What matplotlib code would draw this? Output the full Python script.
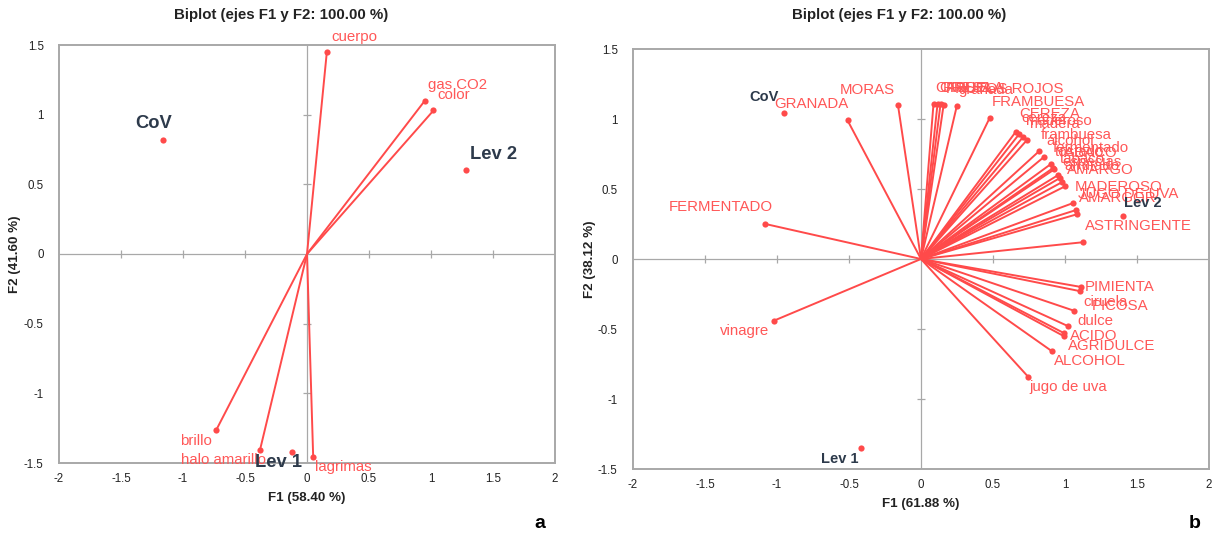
import matplotlib
matplotlib.use('Agg')
import matplotlib.pyplot as plt
import numpy as np

plt.rcParams['font.family'] = ['Liberation Sans', 'DejaVu Sans']

# ---------------- data: panel a ----------------
a_title = 'Biplot (ejes F1 y F2: 100.00 %)'
a_xlabel = 'F1 (58.40 %)'
a_ylabel = 'F2 (41.60 %)'
a_var_names = ['cuerpo', 'gas CO2', 'color', 'brillo', 'halo amarillo', 'lagrimas']
a_var_x = [0.16, 0.95, 1.02, -0.73, -0.38, 0.05]
a_var_y = [1.45, 1.10, 1.03, -1.26, -1.41, -1.46]
a_obs_names = ['CoV', 'Lev 2', 'Lev 1']
a_obs_x = [-1.16, 1.28, -0.12]
a_obs_y = [0.82, 0.60, -1.42]

# ---------------- data: panel b ----------------
b_title = 'Biplot (ejes F1 y F2: 100.00 %)'
b_xlabel = 'F1 (61.88 %)'
b_ylabel = 'F2 (38.12 %)'
b_var_names = ['MORAS', 'GRANADA', 'FERMENTADO', 'vinagre',
               'CASSIS', 'CIRUELA', 'FRESA', 'FRUTOS ROJOS', 'granada',
               'FRAMBUESA', 'CEREZA', 'cereza', 'maderoso', 'madera',
               'frambuesa', 'alcohol', 'fermentado', 'tostado', 'TABACO',
               'tabaco', 'especias', 'afrutado', 'AMARGO', 'MADEROSO',
               'JUGO DE UVA', 'AMARGOR', 'ASTRINGENTE',
               'PIMIENTA', 'PICOSA', 'ciruela', 'dulce', 'ACIDO', 'AGRIDULCE',
               'ALCOHOL', 'jugo de uva']
b_var_x = [-0.16, -0.51, -1.08, -1.02,
           0.087, 0.115, 0.136, 0.157, 0.248,
           0.478, 0.659, 0.680, 0.708, 0.736,
           0.820, 0.855, 0.904, 0.918, 0.925,
           0.953, 0.967, 0.981, 1.002, 1.057,
           1.078, 1.085, 1.127,
           1.113, 1.106, 1.064, 1.022, 0.994, 0.990,
           0.911, 0.743]
b_var_y = [1.10, 0.99, 0.25, -0.44,
           1.11, 1.11, 1.11, 1.10, 1.09,
           1.01, 0.91, 0.89, 0.87, 0.85,
           0.77, 0.73, 0.68, 0.65, 0.64,
           0.60, 0.58, 0.55, 0.52, 0.40,
           0.35, 0.32, 0.12,
           -0.20, -0.23, -0.37, -0.48, -0.53, -0.55,
           -0.66, -0.84]
b_obs_names = ['CoV', 'Lev 2', 'Lev 1']
b_obs_x = [-0.95, 1.40, -0.42]
b_obs_y = [1.04, 0.31, -1.35]

ticks_x = [-2, -1.5, -1, -0.5, 0, 0.5, 1, 1.5, 2]
ticks_y = [-1.5, -1, -0.5, 0, 0.5, 1, 1.5]

# ---------------- styles ----------------
RED = '#ff4a4a'
RED_TXT = '#ff5757'
DARK = '#2d3a4b'
GRAY = '#a8a8a8'

# label offsets in pixels (style only)
a_var_off = {'cuerpo': (5, 15, 'left'), 'gas CO2': (3, 16, 'left'),
             'color': (4, 15, 'left'), 'brillo': (-5, -11, 'right'),
             'halo amarillo': (6, -10, 'right'), 'lagrimas': (2, -10, 'left')}
a_obs_off = {'CoV': (-10, 16, 'center'), 'Lev 2': (4, 16, 'left'),
             'Lev 1': (10, -11, 'right')}
b_var_off = {'MORAS': (-3, 15, 'right'), 'GRANADA': (1, 16, 'right'),
             'FERMENTADO': (7, 17, 'right'), 'vinagre': (-5, -10, 'right'),
             'CEREZA': (3, 18, 'left'),
             'PIMIENTA': (3, 0, 'left'), 'PICOSA': (11, -15, 'left'),
             'ciruela': (9, 9, 'left'), 'dulce': (9, 5, 'left'),
             'ACIDO': (6, -3, 'left'), 'AGRIDULCE': (4, -10, 'left'),
             'ALCOHOL': (2, -10, 'left'), 'jugo de uva': (1, -10, 'left')}
b_obs_off = {'CoV': (-5, 16, 'right'), 'Lev 2': (1, 13, 'left'),
             'Lev 1': (-2, -11, 'right')}


def default_off(x, y):
    if x >= 0 and y >= 0:
        return (2, 16, 'left')
    if x >= 0:
        return (2, -10, 'left')
    if y >= 0:
        return (-3, 16, 'right')
    return (-3, -10, 'right')


def fmt(v):
    return f'{v:g}'


def draw_panel(ax, vnames, vx, vy, onames, ox, oy, voff, ooff,
               xlabel, ylabel, var_fs, obs_fs, ylab_x):
    ax.set_xlim(-2, 2)
    ax.set_ylim(-1.5, 1.5)
    for s in ax.spines.values():
        s.set_color(GRAY)
        s.set_linewidth(1.4)
    ax.set_xticks(ticks_x)
    ax.set_yticks(ticks_y)
    ax.set_xticklabels([fmt(t) for t in ticks_x])
    ax.set_yticklabels([fmt(t) for t in ticks_y])
    ax.tick_params(axis='x', length=0, pad=7, labelsize=8.3, labelcolor='#222222')
    ax.tick_params(axis='y', length=0, pad=11, labelsize=8.3, labelcolor='#222222')
    ax.axhline(0, color=GRAY, lw=0.9, zorder=1)
    ax.axvline(0, color=GRAY, lw=0.9, zorder=1)
    inner_x = [t for t in ticks_x if t not in (0, -2, 2)]
    inner_y = [t for t in ticks_y if t not in (0, -1.5, 1.5)]
    ax.plot(inner_x, np.zeros(len(inner_x)), ls='none', marker='|', ms=6,
            mew=0.9, color=GRAY, zorder=1)
    ax.plot(np.zeros(len(inner_y)), inner_y, ls='none', marker='_', ms=6,
            mew=0.9, color=GRAY, zorder=1)

    for n, x, y in zip(vnames, vx, vy):
        ax.plot([0, x], [0, y], color=RED, lw=1.4, zorder=3,
                solid_capstyle='round')
    ax.scatter(vx, vy, s=20, color=RED, zorder=4, linewidths=0)
    ax.scatter(ox, oy, s=20, color=RED, zorder=4, linewidths=0)

    for n, x, y in zip(vnames, vx, vy):
        dx, dy, ha = voff.get(n, default_off(x, y))
        ax.annotate(n, (x, y), xytext=(dx, dy), textcoords='offset pixels',
                    ha=ha, va='center', fontsize=var_fs, color=RED_TXT,
                    annotation_clip=False, zorder=5)
    for n, x, y in zip(onames, ox, oy):
        dx, dy, ha = ooff.get(n, default_off(x, y))
        ax.annotate(n, (x, y), xytext=(dx, dy), textcoords='offset pixels',
                    ha=ha, va='center', fontsize=obs_fs, color=DARK,
                    fontweight='bold', annotation_clip=False, zorder=6)

    ax.text(0.5, -0.084, xlabel, transform=ax.transAxes, ha='center',
            va='center', fontsize=9.6, fontweight='bold', color='#222222')
    ax.text(ylab_x, 0.5, ylabel, transform=ax.transAxes, ha='center',
            va='center', rotation=90, fontsize=9.6, fontweight='bold',
            color='#222222')


W, H = 1222, 540
fig = plt.figure(figsize=(W / 100, H / 100), dpi=100)
fig.patch.set_facecolor('white')

ax_a = fig.add_axes([59 / W, (H - 463) / H, 496 / W, 418 / H])
ax_b = fig.add_axes([633 / W, (H - 469) / H, 576 / W, 420 / H])

draw_panel(ax_a, a_var_names, a_var_x, a_var_y, a_obs_names, a_obs_x, a_obs_y,
           a_var_off, a_obs_off, a_xlabel, a_ylabel, 10.8, 13.2,
           (15 - 59) / 496)
draw_panel(ax_b, b_var_names, b_var_x, b_var_y, b_obs_names, b_obs_x, b_obs_y,
           b_var_off, b_obs_off, b_xlabel, b_ylabel, 10.8, 10.5,
           (590 - 633) / 576)

fig.text(281 / W, 1 - 15 / H, a_title, ha='center', va='center',
         fontsize=10.8, fontweight='bold', color='#222222')
fig.text(899 / W, 1 - 15 / H, b_title, ha='center', va='center',
         fontsize=10.8, fontweight='bold', color='#222222')
fig.text(540 / W, 1 - 524 / H, 'a', ha='center', va='center',
         fontsize=14, fontweight='bold', color='black')
fig.text(1195 / W, 1 - 524 / H, 'b', ha='center', va='center',
         fontsize=14, fontweight='bold', color='black')

fig.savefig('out.png', dpi=100, facecolor='white')
